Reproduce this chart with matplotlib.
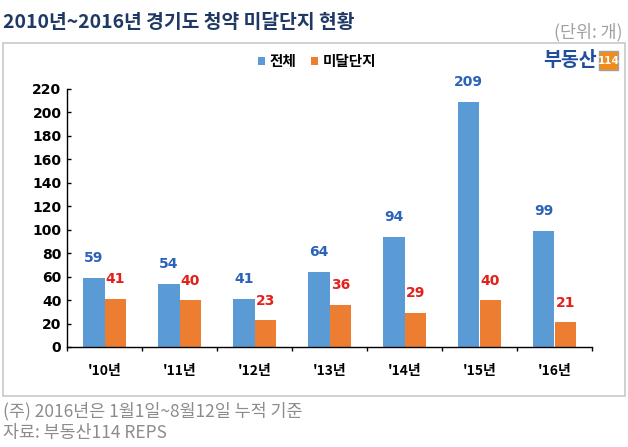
import matplotlib
matplotlib.use("Agg")
import matplotlib.pyplot as plt
from matplotlib.patches import Rectangle
import numpy as np

plt.rcParams['font.family'] = ['Noto Sans CJK KR', 'DejaVu Sans']

categories = ["'10년", "'11년", "'12년", "'13년", "'14년", "'15년", "'16년"]
total = [59, 54, 41, 64, 94, 209, 99]
unsold = [41, 40, 23, 36, 29, 40, 21]
series_names = ["전체", "미달단지"]
yticks = [0, 20, 40, 60, 80, 100, 120, 140, 160, 180, 200, 220]

W, H = 628, 447
fig = plt.figure(figsize=(W / 100, H / 100), dpi=100)

def fx(px):
    return px / W

def fy(py):
    return 1 - py / H

# outer frame
fig.patches.append(Rectangle((fx(3), fy(396)), fx(625) - fx(3), fy(43) - fy(396),
                             transform=fig.transFigure, fill=False,
                             edgecolor='#c8c8c8', linewidth=1.2))

ax = fig.add_axes([fx(67), fy(347), fx(592) - fx(67), fy(89) - fy(347)])
x = np.arange(len(categories))
bw = 0.287
blue = '#5b9bd5'
orange = '#ed7d31'
b1 = ax.bar(x - bw / 2, total, bw, color=blue, label=series_names[0])
b2 = ax.bar(x + bw / 2, unsold, bw, color=orange, label=series_names[1])

for xi, v in zip(x, total):
    ax.annotate(str(v), (xi - bw / 2, v), xytext=(0, 9), textcoords='offset points',
                ha='center', va='bottom', fontsize=10, fontweight='bold',
                color='#2b63b8', family=['DejaVu Sans'])
for xi, v in zip(x, unsold):
    ax.annotate(str(v), (xi + bw / 2, v), xytext=(0, 9), textcoords='offset points',
                ha='center', va='bottom', fontsize=10, fontweight='bold',
                color='#e3211c', family=['DejaVu Sans'])

ax.set_xlim(-0.5, len(categories) - 0.5)
ax.set_ylim(0, 220)
ax.set_yticks(yticks)
ax.set_yticklabels([str(t) for t in yticks], fontsize=10, fontweight='bold',
                   family=['DejaVu Sans'])
ax.tick_params(axis='y', direction='in', length=3, width=1, pad=4)
ax.set_xticks(x)
ax.set_xticklabels(categories, fontsize=10, fontweight='bold')
ax.tick_params(axis='x', length=0, pad=12)
ax.set_xticks(np.arange(len(categories) + 1) - 0.5, minor=True)
ax.tick_params(axis='x', which='minor', direction='out', length=3, width=1)
for s in ['top', 'right']:
    ax.spines[s].set_visible(False)
for s in ['left', 'bottom']:
    ax.spines[s].set_color('black')
    ax.spines[s].set_linewidth(1)

# legend
fig.legend(handles=[b1, b2], labels=series_names, loc='center',
           bbox_to_anchor=(fx(317), fy(61)), ncol=2, frameon=False,
           prop={'weight': 'bold', 'size': 10.5}, handlelength=0.5,
           handleheight=0.5, handletextpad=0.3, columnspacing=1.0)

# title
fig.text(fx(3), fy(22), "2010년~2016년 경기도 청약 미달단지 현황", fontsize=13.9,
         fontweight='bold', color='#1f3864', ha='left', va='center')
fig.text(fx(623), fy(32), "(단위: 개)", fontsize=12.5, color='#a0a0a0',
         ha='right', va='center')

# logo
fig.text(fx(597), fy(60), "부동산", fontsize=14, fontweight='bold', color='#1f4e9c',
         ha='right', va='center')
fig.patches.append(Rectangle((fx(599), fy(70)), fx(618) - fx(599), fy(51) - fy(70),
                             transform=fig.transFigure, facecolor='#f08c1e',
                             edgecolor='#a0a0a0', linewidth=1))
fig.text(fx(608.5), fy(60.5), "114", fontsize=7.5, fontweight='bold', color='white',
         ha='center', va='center', family=['DejaVu Sans'])

# footnotes
fig.text(fx(3), fy(411), "(주) 2016년은 1월1일~8월12일 누적 기준", fontsize=12.5,
         color='#8c8c8c', ha='left', va='center')
fig.text(fx(3), fy(433), "자료: 부동산114 REPS", fontsize=12.5,
         color='#8c8c8c', ha='left', va='center')

fig.savefig("out.png", dpi=100)
